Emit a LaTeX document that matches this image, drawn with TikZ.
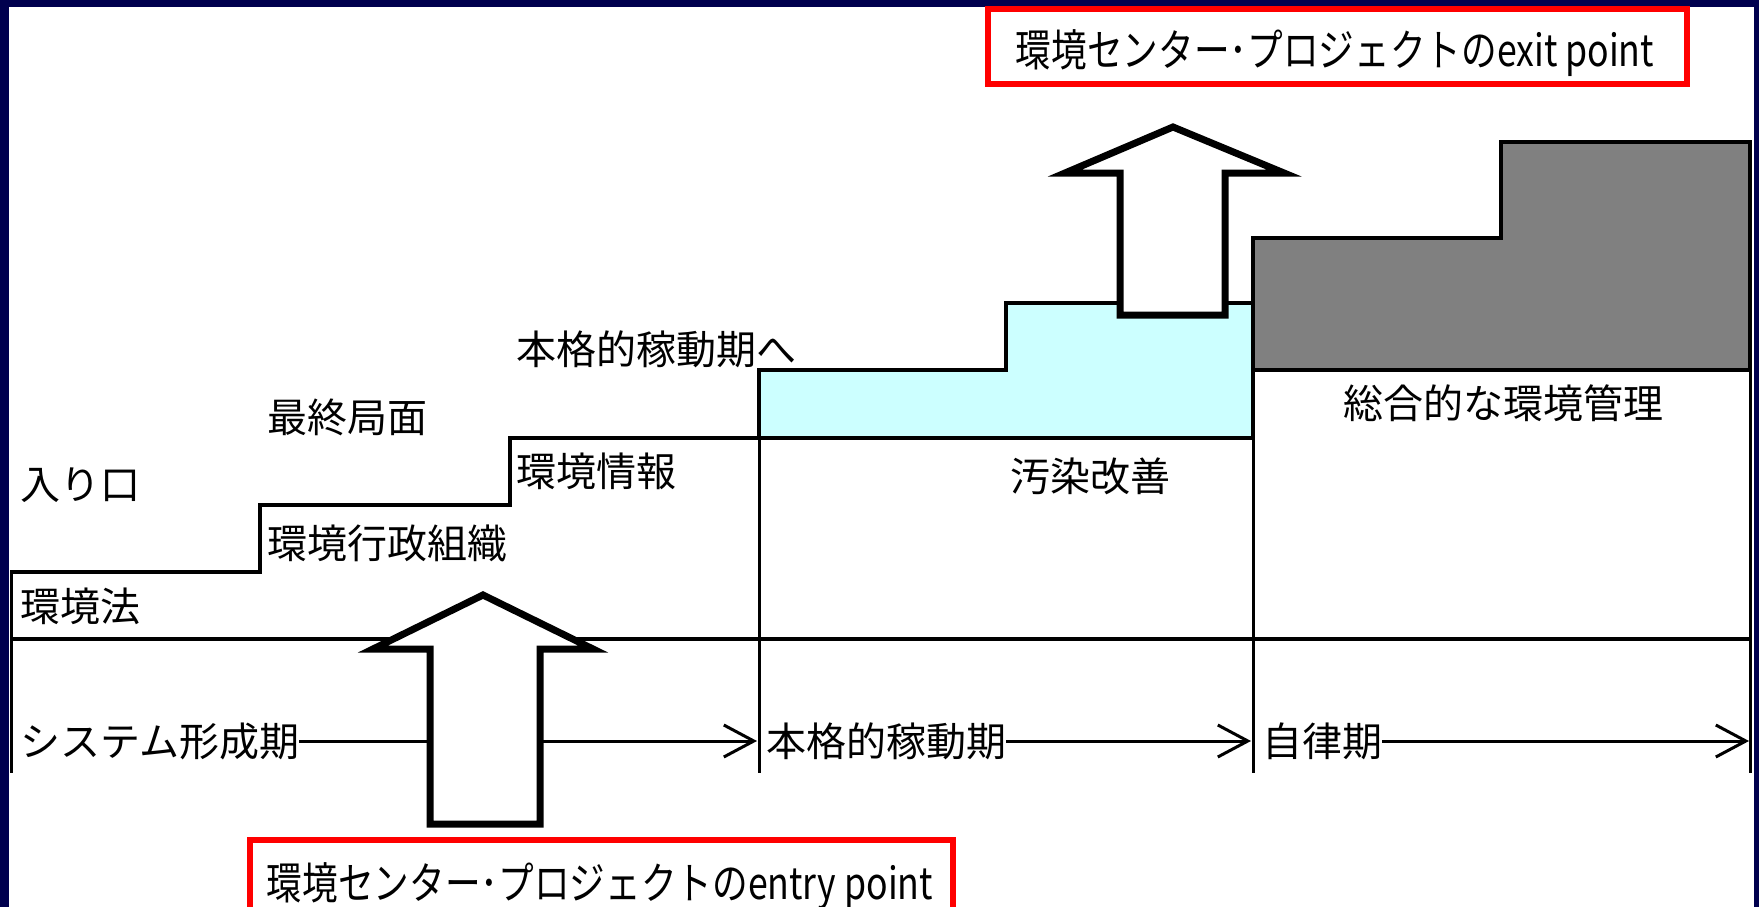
\documentclass[tikz,border=0pt]{standalone}
\usepackage{fontspec}
\newfontfamily\jp{Noto Sans CJK JP}
\newfontfamily\jpbox[FakeStretch=0.81]{Noto Sans CJK JP}
\usetikzlibrary{arrows.meta}
\definecolor{navybg}{RGB}{0,0,78}
\definecolor{cyanfill}{RGB}{204,255,255}
\definecolor{grayfill}{RGB}{128,128,128}
\definecolor{boxred}{RGB}{255,0,0}
\tikzset{
  lbl/.style={font=\jp\fontsize{40}{48}\selectfont, inner sep=0pt, anchor=west},
  boxlbl/.style={font=\jpbox\fontsize{44}{52}\selectfont, inner sep=0pt},
  stepline/.style={line width=4pt, line join=miter},
  thinline/.style={line width=3pt},
  tl/.style={line width=3pt, -{Straight Barb[length=30pt,width=32pt,line width=3pt]}},
  bigarrow/.style={fill=white, draw=black, line width=7pt, line join=miter},
  redbox/.style={draw=boxred, line width=6pt}
}
\begin{document}
\begin{tikzpicture}[x=1pt,y=-1pt]
\clip (0,0) rectangle (1759,907);
\fill[navybg] (0,0) rectangle (1759,907);
\fill[white] (9,7) rectangle (1754,907);
% coloured blocks
\filldraw[stepline, fill=cyanfill] (759,438) -- (759,370) -- (1006,370) -- (1006,303) -- (1253,303) -- (1253,438) -- cycle;
\filldraw[stepline, fill=grayfill] (1253,370) -- (1253,238) -- (1501,238) -- (1501,142) -- (1750,142) -- (1750,370) -- cycle;
% staircase
\draw[stepline] (11,572) -- (260,572) -- (260,505) -- (510,505) -- (510,438) -- (759,438);
\draw[stepline] (11,639) -- (1750,639);
% verticals
\draw[thinline] (11,570) -- (11,773);
\draw[thinline] (759,370) -- (759,773);
\draw[thinline] (1253,238) -- (1253,773);
\draw[thinline] (1750,142) -- (1750,773);
% labels
\node[lbl] (iri) at (20,485) {入り口};
\node[lbl] (sai) at (267,417) {最終局面};
\node[lbl] (hon) at (516,349) {本格的稼動期へ};
\node[lbl] (joh) at (516,471) {環境情報};
\node[lbl] (gyo) at (267,543) {環境行政組織};
\node[lbl] (hou) at (20,606) {環境法};
\node[lbl] (osen) at (1010,476) {汚染改善};
\node[lbl] (sogo) at (1343,403) {総合的な環境管理};
\node[lbl] (sys) at (20,741) {システム形成期};
\node[lbl] (kado) at (766,741) {本格的稼動期};
\node[lbl] (jir) at (1262,741) {自律期};
% timeline arrows
\coordinate (t1) at (757,741);
\coordinate (t2) at (1251,741);
\coordinate (t3) at (1749,741);
\draw[tl] (sys.east) -- (t1);
\draw[tl] (kado.east) -- (t2);
\draw[tl] (jir.east) -- (t3);
% big arrows
\draw[bigarrow] (430,824) -- (430,649) -- (373,649) -- (483,595) -- (593,649) -- (540,649) -- (540,824) -- cycle;
\draw[bigarrow] (1120,315) -- (1120,173) -- (1065,173) -- (1173,127) -- (1284,173) -- (1225,173) -- (1225,315) -- cycle;
% red boxes
\draw[redbox] (988,9) rectangle (1687,84);
\node[boxlbl] (exitt) at (1335,53) {環境センター･プロジェクトのexit point};
\draw[redbox] (249.5,839.5) rectangle (953,930);
\node[boxlbl] (entryt) at (600,886) {環境センター･プロジェクトのentry point};
\end{tikzpicture}
\end{document}
